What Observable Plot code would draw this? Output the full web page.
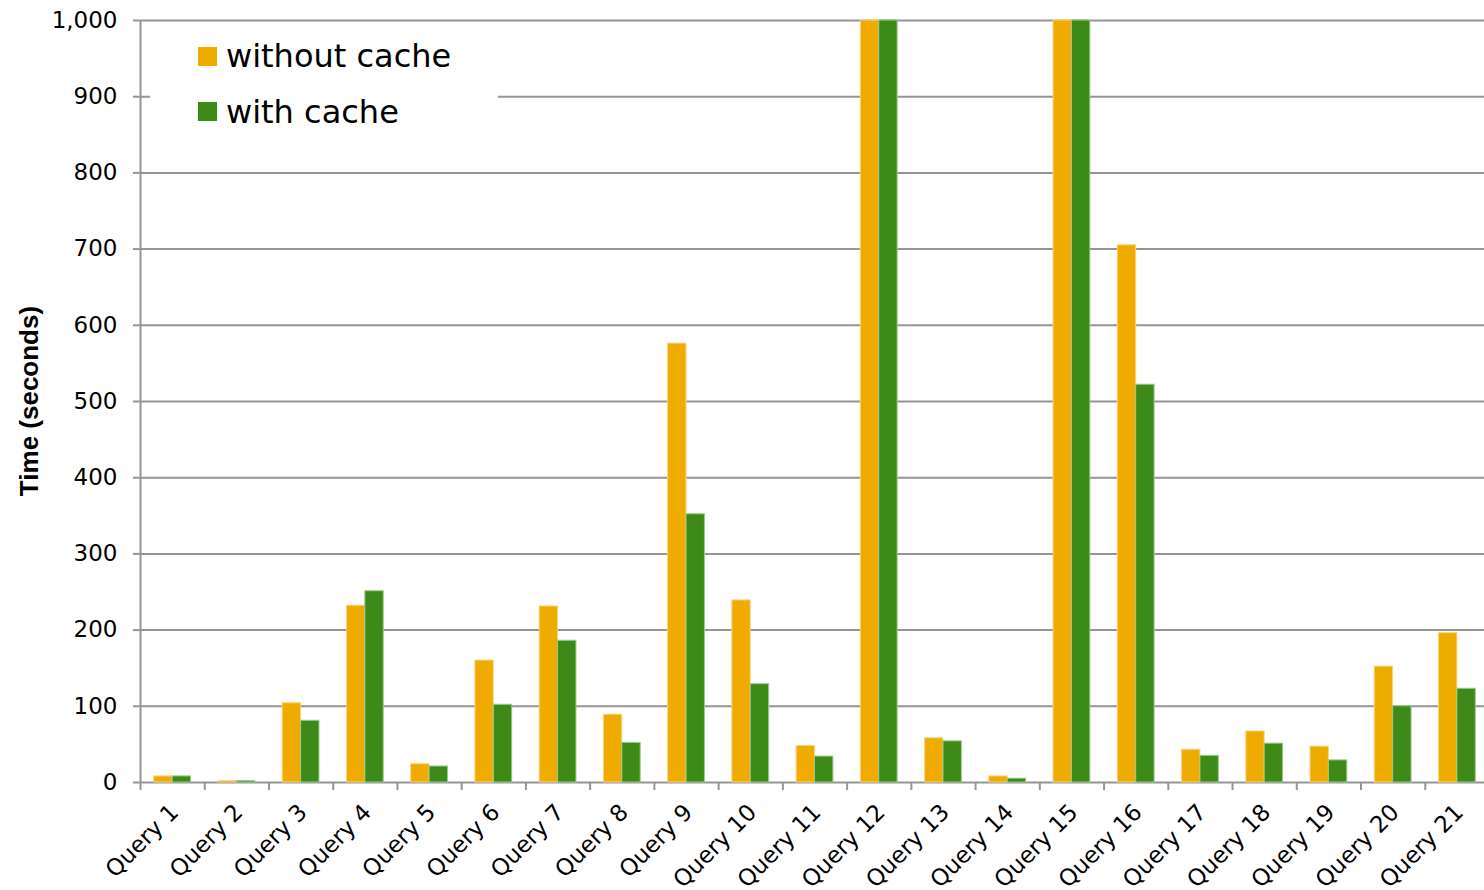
<!DOCTYPE html>
<html>
<head>
<meta charset="utf-8">
<script src="https://cdn.jsdelivr.net/npm/d3@7"></script>
<script src="https://cdn.jsdelivr.net/npm/@observablehq/plot@0.6"></script>
<style>
  html, body { margin: 0; padding: 0; background: #fff; overflow: hidden; }
  #wrap { position: relative; width: 1484px; height: 890px; }
  #legend { position: absolute; left: 150px; top: 23px; width: 348px; height: 120px; background: #fff;
            font-family: "DejaVu Sans", sans-serif; font-size: 32px; color: #000; }
  .sw { position: absolute; left: 48px; width: 19px; height: 19px; }
  .lt { position: absolute; left: 76px; line-height: 32px; white-space: nowrap; }
  #ylabel { position: absolute; left: 29px; top: 401px; transform: translate(-50%, -50%) rotate(-90deg);
            font-family: "Liberation Sans", Arial, sans-serif; font-weight: bold; font-size: 26px; white-space: nowrap; color: #000; }
</style>
</head>
<body>
<div id="wrap"></div>
<script>
const queries = ["Query 1","Query 2","Query 3","Query 4","Query 5","Query 6","Query 7","Query 8","Query 9","Query 10","Query 11","Query 12","Query 13","Query 14","Query 15","Query 16","Query 17","Query 18","Query 19","Query 20","Query 21"];
const seriesNames = ["without cache", "with cache"];
const withoutCache = [8, 2, 104, 232, 24, 160, 231, 89, 576, 239, 48, 1000, 58, 8, 1000, 705, 43, 67, 47, 152, 196];
const withCache = [8, 2, 81, 251, 21, 102, 186, 52, 352, 129, 34, 1000, 54, 5, 1000, 522, 35, 51, 29, 100, 123];
const yTicks = [0, 100, 200, 300, 400, 500, 600, 700, 800, 900, 1000];

const colors = {"without cache": "#F0AB00", "with cache": "#3D8A18"};
const edges = {"without cache": "#F8D680", "with cache": "#9CC88A"};

const W = 1484, H = 890, ML = 140, MR = -5, MT = 20, MB = 108;
const bw = (W - ML - MR) / queries.length;
const barW = 18.4;

const rowsA = queries.map((q, i) => ({query: q, value: withoutCache[i]}));
const rowsB = queries.map((q, i) => ({query: q, value: withCache[i]}));

const chart = Plot.plot({
  width: W, height: H,
  marginLeft: ML, marginRight: MR, marginTop: MT, marginBottom: MB,
  style: {fontFamily: "DejaVu Sans, sans-serif", background: "#fff", overflow: "visible"},
  x: {type: "band", domain: queries, padding: 0, round: false, axis: null},
  y: {domain: [0, 1000]},
  marks: [
    Plot.ruleY(yTicks, {stroke: "#959595", strokeWidth: 2}),
    Plot.barY(rowsA, {x: "query", y: "value", fill: colors["without cache"], stroke: edges["without cache"], strokeWidth: 1,
      insetLeft: bw / 2 - barW, insetRight: bw / 2}),
    Plot.barY(rowsB, {x: "query", y: "value", fill: colors["with cache"], stroke: edges["with cache"], strokeWidth: 1,
      insetLeft: bw / 2, insetRight: bw / 2 - barW}),
    Plot.ruleX(queries, {x: d => d, dx: -bw / 2, y1: -10.5, y2: 0, stroke: "#959595", strokeWidth: 2}),
    Plot.ruleX([queries[0]], {x: d => d, dx: -bw / 2, y1: 0, y2: 1000, stroke: "#959595", strokeWidth: 2}),
    Plot.axisY({ticks: yTicks, tickFormat: d3.format(","), tickSize: 7, tickPadding: 16, fontSize: 23,
      stroke: "#959595", strokeWidth: 2, fill: "#000", label: null}),
    Plot.text(queries, {x: d => d, y: 0, text: d => d, rotate: -45, textAnchor: "end", dx: 2, dy: 26, fontSize: 23, fill: "#000"})
  ]
});

const wrap = document.getElementById("wrap");
wrap.appendChild(chart);

const legend = document.createElement("div");
legend.id = "legend";
seriesNames.forEach((s, i) => {
  const sw = document.createElement("div");
  sw.className = "sw";
  sw.style.top = (24 + i * 55) + "px";
  sw.style.background = colors[s];
  const t = document.createElement("div");
  t.className = "lt";
  t.style.top = (17 + i * 55.5) + "px";
  t.textContent = s;
  legend.appendChild(sw);
  legend.appendChild(t);
});
wrap.appendChild(legend);

const yl = document.createElement("div");
yl.id = "ylabel";
yl.textContent = "Time (seconds)";
wrap.appendChild(yl);
</script>
</body>
</html>
